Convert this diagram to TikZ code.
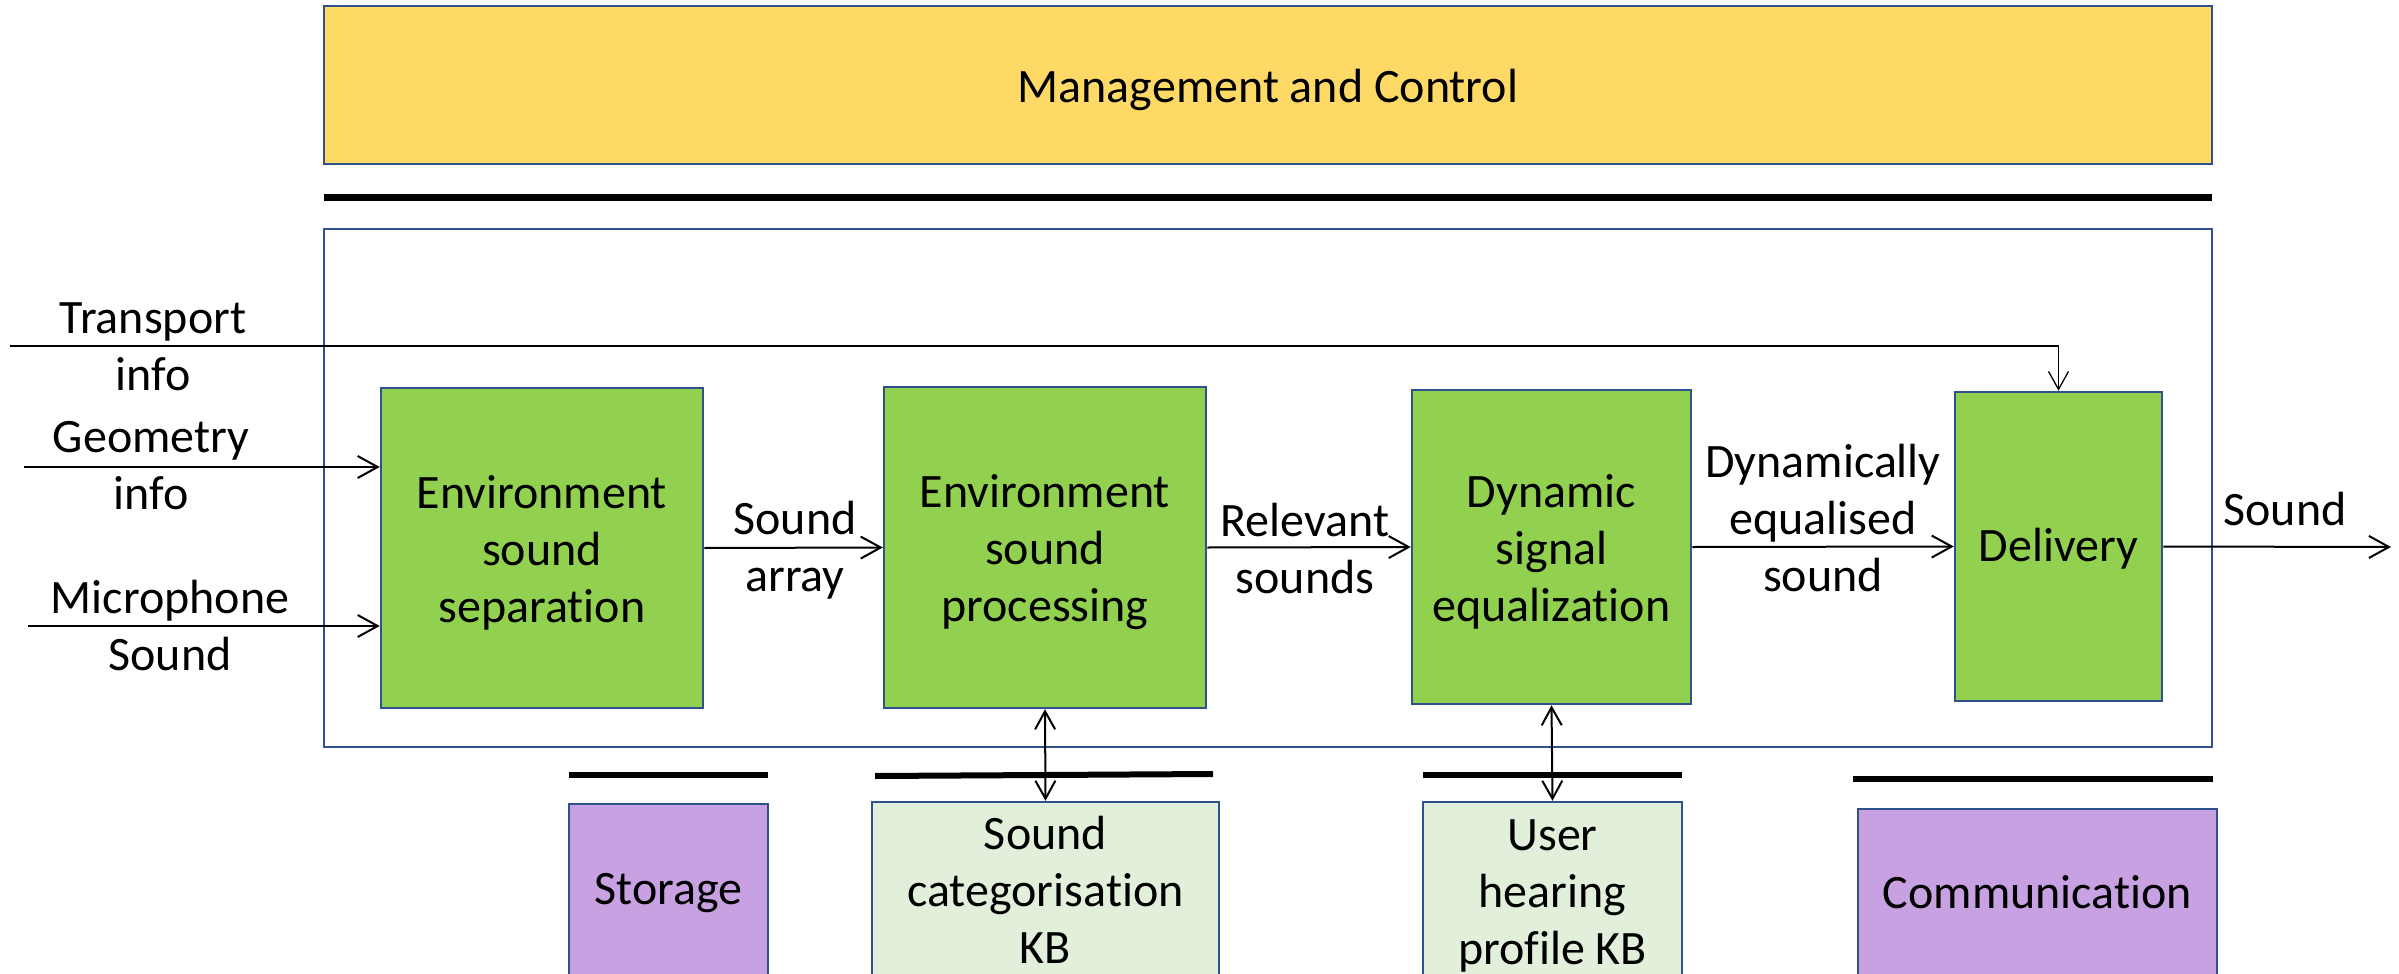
\documentclass[tikz,border=0pt]{standalone}
\usepackage{fontspec}
\setmainfont{Carlito}[Ligatures=NoCommon]
\usetikzlibrary{arrows.meta}
\definecolor{bblue}{RGB}{47,82,143}
\definecolor{cgreen}{RGB}{146,208,80}
\definecolor{cyellow}{RGB}{255,217,102}
\definecolor{cpurple}{RGB}{200,161,226}
\definecolor{ckb}{RGB}{226,239,218}
\newcommand\pushdn[1]{\rule{0pt}{#1}}
\begin{document}
\begin{tikzpicture}[x=1pt,y=-1pt,
  txt/.style={font=\fontsize{48}{57}\selectfont, align=center, inner sep=0pt},
  box/.style={txt, draw=bblue, line width=2.5pt, inner sep=0pt},
  gbox/.style={box, fill=cgreen},
  kbbox/.style={box, fill=ckb},
  pbox/.style={box, fill=cpurple},
  arr/.style={line width=2pt, -{Straight Barb[length=20pt,width=22pt]}},
  tarr/.style={line width=1.3pt, -{Straight Barb[length=18pt,width=20pt]}},
  darr/.style={line width=2pt, {Straight Barb[length=18pt,width=20pt]}-{Straight Barb[length=18pt,width=20pt]}},
  bar/.style={line width=6pt},
]
\useasboundingbox (0,0) rectangle (2399,974);
\clip (0,0) rectangle (2399,974);

% top management box and separator
\node[box, fill=cyellow, minimum width=1888pt, minimum height=158pt] (mgmt) at (1268,85) {\pushdn{44pt}Management and Control};
\draw[line width=7pt] (324,197) coordinate (sepl) -- (2212,197) coordinate (sepr);

% main frame
\node[draw=bblue, line width=2pt, minimum width=1888pt, minimum height=518pt, inner sep=0pt] (main) at (1268,488) {};

% processing blocks
\node[gbox, minimum width=322pt, minimum height=320pt] (ess) at (542,548) {\pushdn{42pt}Environment\\sound\\separation};
\node[gbox, minimum width=322pt, minimum height=321pt] (esp) at (1045,547.5) {\pushdn{42pt}Environment\\sound\\processing};
\node[gbox, minimum width=279pt, minimum height=314pt] (dse) at (1551.5,547) {\pushdn{42pt}Dynamic\\signal\\equalization};
\node[gbox, minimum width=207pt, minimum height=309pt] (del) at (2058.5,546.5) {\pushdn{38pt}Delivery};

% bottom boxes
\node[pbox, minimum width=199pt, minimum height=178pt] (stor) at (668.5,893) {Storage};
\node[kbbox, minimum width=347pt, minimum height=176pt] (skb) at (1045.5,890) {Sound\\categorisation\\KB};
\node[kbbox, minimum width=259pt, minimum height=176pt] (uhp) at (1552.5,890) {\pushdn{42pt}User\\hearing\\profile KB};
\node[pbox, minimum width=359pt, minimum height=166pt] (comm) at (2037.5,892) {Communication};

% bars above bottom boxes
\draw[bar] (569,775) coordinate (b1l) -- (768,775) coordinate (b1r);
\draw[bar] (875,776) coordinate (b2l) -- (1213,774) coordinate (b2r);
\draw[bar] (1423,775) coordinate (b3l) -- (1682,775) coordinate (b3r);
\draw[bar] (1853,779) coordinate (b4l) -- (2213,779) coordinate (b4r);

% inputs
\coordinate (tin) at (10,346);
\coordinate (gin) at (24,467);
\coordinate (min) at (28,626);
\coordinate (sout) at (2391,547);
\draw[tarr] (tin) -- (tin -| del.north) -- (del.north);
\draw[arr] (gin) -- (gin -| ess.west);
\draw[arr] (min) -- (min -| ess.west);

\node[txt] (ltrans) at (153,346.5) {Transport\\info};
\node[txt] (lgeo) at (151,465.5) {Geometry\\info};
\node[txt] (lmic) at (170,626) {Microphone\\Sound};

% flow
\draw[arr] (ess.east) -- (esp.west);
\draw[arr] (esp.east) -- (dse.west);
\draw[arr] (dse.east) -- (del.west);
\draw[arr] (del.east) -- (sout);

\node[txt] (lsa) at (795,550) {Sound\\array};
\node[txt] (lrs) at (1305,549) {Relevant\\sounds};
\node[txt] (ldes) at (1823,518) {Dynamically\\equalised\\sound};
\node[txt] (lso) at (2285,509) {Sound};

% KB links
\draw[darr] (esp.south) -- (skb.north);
\draw[darr] (dse.south) -- (uhp.north);
\end{tikzpicture}
\end{document}
